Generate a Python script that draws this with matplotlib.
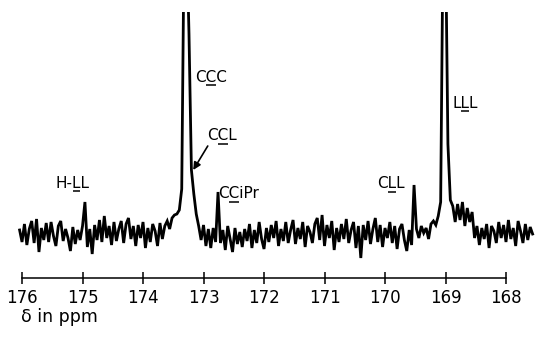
import numpy as np
import matplotlib
matplotlib.use("Agg")
import matplotlib.pyplot as plt

# ---------------- data ----------------
ppm_start = 176.04
ppm_step = 0.04
intensity = [
    4, -8, 10, -11, 5, 13, -9, 15, -18, 6,
    -6, 11, -8, 12, -2, -12, 8, 13, -7, 5,
    -4, -17, 7, -10, 4, -6, 8,
    32,
    -13, 5, -20, 9, -6, 14, -8, 18, -4, 8, -11, 12,
    -7, 5, 13, -9, 10, 16, -5, 8, -12, 9,
    -4, 12, -14, 6, -8, 10, 3, -12, 11, -5,
    8, 13, 5, 16, 19,
    20, 24, 45, 300, 300, 200, 64, 40, 20, 8, -6,
    9, -12, 5, -14, 6, -8,
    42,
    -9, 4, -16, 8, -5, -18, 6, -10, 2, -13,
    5, -7, 10, -14, 4, -9, 12, -5, -15, 6,
    -8, 9, -4, 13, -12, 5, -7, 12, -9, 4,
    14, -10, 6, -5, 12, -13, 8, 2, -9, 10,
    16, -6, 19, -12, 9, -4, 13, -16, 6, -8,
    10, -5, 15, -9, 4, 12, -14, 8, -24, 9,
    -6, 13, -10, 5, 16, -8, 9, -13, 6, -4,
    12, -9, 8, -15, 5, 10, -6, -17, 4, -11,
    49,
    5, -4, 8, 1, 6, -5, 10, 13, 9, 18,
    32, 300, 300, 90, 34, 28,
    12, 30, 14, 32, 8, 26, 12, 22, -4, 8,
    -11, 6, -5, 10, -14, 8, 3, -9, 12, -4,
    9, -8, 14, -5, 6, -12, 13, 3, -9, 10, -6, 7, 0,
]
tick_values = [176, 175, 174, 173, 172, 171, 170, 169, 168]
tick_labels = [str(v) for v in tick_values]
peak_labels = ["H-LL", "CCC", "CCL", "CCiPr", "CLL", "LLL"]
underlined_index = [2, 1, 1, 1, 1, 1]
axis_label = "\u03b4 in ppm"

# ---------------- layout ----------------
label_ppm = [175.45, 173.14, 172.94, 172.76, 170.13, 168.89]
label_y = [46.5, 152.5, 93.5, 35.5, 45.5, 126.5]
arrow_tail = (172.93, 88)
arrow_head = (173.17, 64)

ppm = ppm_start - ppm_step * np.arange(len(intensity))

fig = plt.figure(figsize=(5.55, 3.38), dpi=100)
ax = fig.add_axes([0, 0, 1, (338 - 12) / 338])
ax.set_xlim(176.364, 167.19)
ax.set_ylim(-104, 222)

ax.plot(ppm, intensity, color="black", lw=2.0, solid_joinstyle="miter")

for s in ["top", "left", "right"]:
    ax.spines[s].set_visible(False)
ax.spines["bottom"].set_position(("data", -44))
ax.spines["bottom"].set_bounds(168, 176)
ax.spines["bottom"].set_linewidth(1.1)
ax.set_yticks([])
ax.set_xticks(tick_values)
ax.set_xticklabels(tick_labels)
ax.tick_params(axis="x", direction="inout", length=8, width=1.1, pad=4,
               labelsize=12)

renderer = fig.canvas.get_renderer()
inv = ax.transData.inverted()
for txt, k, xp, yp in zip(peak_labels, underlined_index, label_ppm, label_y):
    t = ax.text(xp, yp, txt, ha="left", va="baseline", fontsize=11)
    t0 = ax.text(xp, yp, txt[:k], ha="left", va="baseline", fontsize=11)
    t1 = ax.text(xp, yp, txt[:k + 1], ha="left", va="baseline", fontsize=11)
    x_origin = ax.transData.transform((xp, yp))
    w0 = t0.get_window_extent(renderer).width if k > 0 else 0.0
    w1 = t1.get_window_extent(renderer).width
    t0.remove()
    t1.remove()
    # underline in display pixels, 3 px below the baseline
    p_a = inv.transform((x_origin[0] + w0 + 0.5, x_origin[1] - 3))
    p_b = inv.transform((x_origin[0] + w1 - 0.5, x_origin[1] - 3))
    ax.plot([p_a[0], p_b[0]], [p_a[1], p_b[1]], color="black", lw=1.1,
            solid_capstyle="butt")

ax.annotate("", xy=arrow_head, xytext=arrow_tail,
            arrowprops=dict(arrowstyle="-|>", color="black", lw=1.2,
                            mutation_scale=11, shrinkA=0, shrinkB=0))

ax.text(176.02, -83, axis_label, ha="left", va="center", fontsize=12.5)

fig.savefig("out.png", dpi=100)
